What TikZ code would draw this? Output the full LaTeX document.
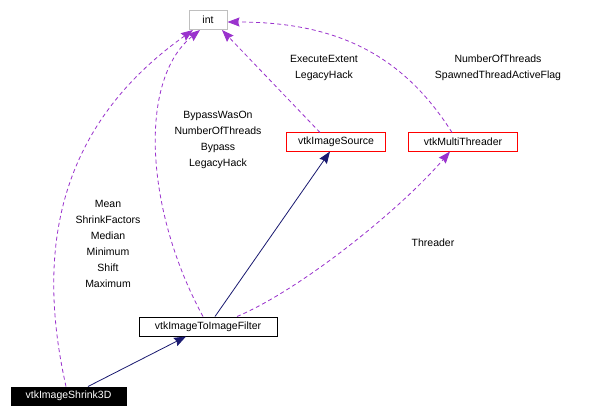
\documentclass[tikz,border=0pt]{standalone}
\usepackage{fontspec}
\setmainfont{Liberation Sans}
\usetikzlibrary{arrows.meta}
\definecolor{edgepurple}{HTML}{9A32CD}
\definecolor{edgenavy}{HTML}{191970}
\definecolor{boxgray}{HTML}{BFBFBF}
\definecolor{boxred}{RGB}{255,0,0}
\begin{document}
\begin{tikzpicture}[x=1pt,y=-1pt,
  every node/.style={font=\fontsize{10.5}{16}\selectfont, inner sep=0pt},
  cls/.style={line width=1pt, minimum height=18pt, fill=white},
  usage/.style={draw=edgepurple, line width=0.8pt, dash pattern=on 4pt off 3pt,
    -{Stealth[length=12pt,width=9pt,inset=1.5pt]}},
  inherit/.style={draw=edgenavy, line width=0.8pt,
    -{Stealth[length=12pt,width=9pt,inset=1.5pt]}},
  redbox/.style={draw=boxred, line width=1.2pt},
  lbl/.style={align=center}]
\useasboundingbox (0,0) rectangle (594,418);
\fill[white] (0,0) rectangle (594,418);
% classes
\node[cls, draw=boxgray, minimum width=38pt, minimum height=19pt] (int) at (208,20) {int};
\node[cls, minimum width=98pt] (src) at (336,142) {vtkImageSource};
\node[cls, minimum width=108pt] (multi) at (463,142) {vtkMultiThreader};
\draw[redbox] (src.south west) rectangle (src.north east);
\draw[redbox] (multi.south west) rectangle (multi.north east);
\node[cls, draw=black, minimum width=138pt, minimum height=19pt] (filter) at (208,326.5) {vtkImageToImageFilter};
\node[cls, draw=black, fill=black, text=white, minimum width=115pt] (shrink) at (68.5,396) {vtkImageShrink3D};
% inheritance
\draw[inherit] ([xshift=19.5pt]shrink.north) -- ([xshift=-22pt]filter.south);
\draw[inherit] ([xshift=7pt]filter.north) -- ([xshift=-6pt]src.south);
% usage
\draw[usage] ([xshift=-2.5pt]shrink.north) .. controls (40,270) and (45,135) .. ([xshift=-15pt]int.south);
\draw[usage] ([xshift=-5pt]filter.north) .. controls (145,210) and (138,80) .. ([xshift=-8pt]int.south);
\draw[usage] ([xshift=-16pt]src.north) -- ([xshift=14pt]int.south);
\draw[usage] ([xshift=-11pt]multi.north) .. controls (400,50) and (330,22) .. ([yshift=-2pt]int.east);
\draw[usage] ([xshift=29pt]filter.north) .. controls (300,290) and (400,210) .. ([xshift=-13pt]multi.south);
% labels
\node[lbl] (l1) at (108,244) {Mean\\ShrinkFactors\\Median\\Minimum\\Shift\\Maximum};
\node[lbl] (l2) at (218,140) {BypassWasOn\\NumberOfThreads\\Bypass\\LegacyHack};
\node[lbl] (l3) at (324,68) {ExecuteExtent\\LegacyHack};
\node[lbl] (l4) at (498,68) {NumberOfThreads\\SpawnedThreadActiveFlag};
\node[lbl] (l5) at (433,243) {Threader};
\end{tikzpicture}
\end{document}
